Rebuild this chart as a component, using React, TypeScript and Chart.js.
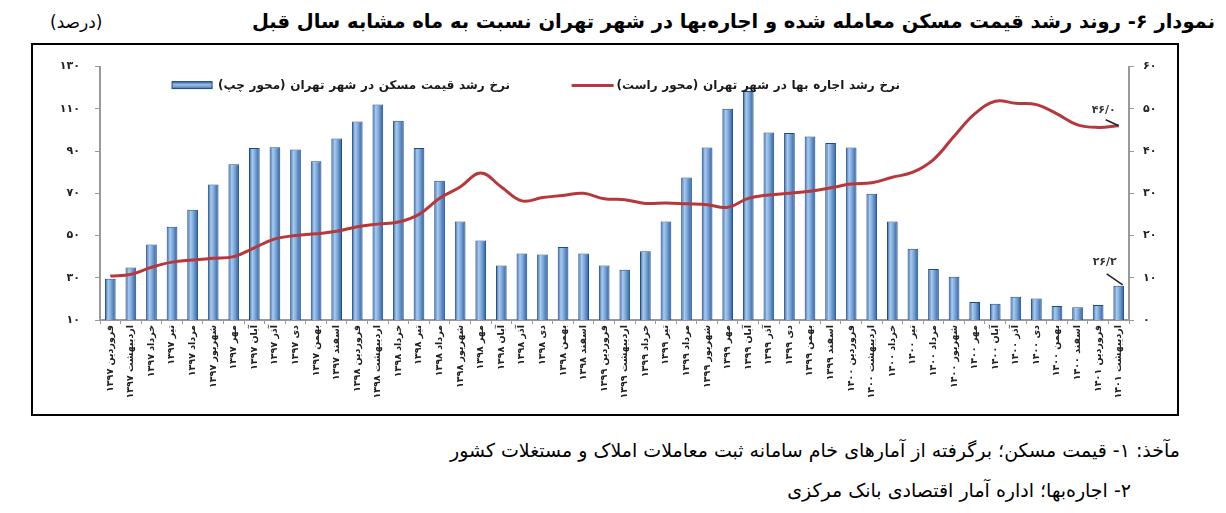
import React, { useEffect, useRef } from 'react';
import { Chart, registerables } from 'chart.js';

Chart.register(...registerables);

const categories: string[] = [
  'فروردین ۱۳۹۷', 'اردیبهشت ۱۳۹۷', 'خرداد ۱۳۹۷', 'تیر ۱۳۹۷', 'مرداد ۱۳۹۷', 'شهریور ۱۳۹۷',
  'مهر ۱۳۹۷', 'آبان ۱۳۹۷', 'آذر ۱۳۹۷', 'دی ۱۳۹۷', 'بهمن ۱۳۹۷', 'اسفند ۱۳۹۷',
  'فروردین ۱۳۹۸', 'اردیبهشت ۱۳۹۸', 'خرداد ۱۳۹۸', 'تیر ۱۳۹۸', 'مرداد ۱۳۹۸', 'شهریور ۱۳۹۸',
  'مهر ۱۳۹۸', 'آبان ۱۳۹۸', 'آذر ۱۳۹۸', 'دی ۱۳۹۸', 'بهمن ۱۳۹۸', 'اسفند ۱۳۹۸',
  'فروردین ۱۳۹۹', 'اردیبهشت ۱۳۹۹', 'خرداد ۱۳۹۹', 'تیر ۱۳۹۹', 'مرداد ۱۳۹۹', 'شهریور ۱۳۹۹',
  'مهر ۱۳۹۹', 'آبان ۱۳۹۹', 'آذر ۱۳۹۹', 'دی ۱۳۹۹', 'بهمن ۱۳۹۹', 'اسفند ۱۳۹۹',
  'فروردین ۱۴۰۰', 'اردیبهشت ۱۴۰۰', 'خرداد ۱۴۰۰', 'تیر ۱۴۰۰', 'مرداد ۱۴۰۰', 'شهریور ۱۴۰۰',
  'مهر ۱۴۰۰', 'آبان ۱۴۰۰', 'آذر ۱۴۰۰', 'دی ۱۴۰۰', 'بهمن ۱۴۰۰', 'اسفند ۱۴۰۰',
  'فروردین ۱۴۰۱', 'اردیبهشت ۱۴۰۱',
];

// Housing price growth (left axis, %)
const housingGrowth: number[] = [
  29.5, 34.9, 45.8, 54.2, 62.2, 74.2, 83.7, 91.5, 91.8, 90.8,
  85.2, 96.0, 104.0, 112.0, 104.3, 91.5, 76.0, 56.6, 47.7, 35.8,
  41.5, 41.0, 44.6, 41.5, 35.8, 33.8, 42.5, 56.6, 77.5, 91.7,
  110.0, 118.5, 98.8, 98.5, 96.9, 93.8, 91.7, 69.8, 56.6, 43.7,
  34.1, 30.5, 18.5, 17.7, 21.0, 20.2, 16.6, 16.0, 17.1, 26.2,
];

// Rent growth (right axis, %)
const rentGrowth: number[] = [
  10.4, 10.8, 12.5, 13.7, 14.2, 14.6, 15.0, 17.1, 19.2, 20.0,
  20.4, 21.0, 22.1, 22.7, 23.2, 25.0, 28.8, 31.5, 34.8, 31.5,
  28.2, 29.0, 29.5, 30.0, 28.7, 28.5, 27.6, 27.7, 27.5, 27.3,
  26.7, 28.8, 29.6, 30.0, 30.5, 31.3, 32.2, 32.5, 33.8, 35.0,
  38.0, 43.5, 48.8, 51.8, 51.3, 51.0, 48.8, 46.2, 45.6, 46.0,
];

const leftAxis = { min: 10, max: 130, step: 20 };
const rightAxis = { min: 0, max: 60, step: 10 };

const barLegend = 'نرخ رشد قیمت مسکن در شهر تهران (محور چپ)';
const lineLegend = 'نرخ رشد اجاره بها در شهر تهران (محور راست)';

const title = 'نمودار ۶- روند رشد قیمت مسکن معامله شده و اجاره‌بها در شهر تهران نسبت به ماه مشابه سال قبل';
const unit = '(درصد)';
const source1 = 'مآخذ: ۱- قیمت مسکن؛ برگرفته از آمارهای خام سامانه ثبت معاملات املاک و مستغلات کشور';
const source2 = '۲- اجاره‌بها؛ اداره آمار اقتصادی بانک مرکزی';

const FA = '۰۱۲۳۴۵۶۷۸۹';
const fa = (s: string) => s.replace(/\d/g, (d) => FA[+d]);

const BAR_PCT = 0.52;
const FONT = '"DejaVu Sans", sans-serif';
const LINE_COLOR = '#b7373b';

const overlayPlugin = {
  id: 'overlay',
  afterDatasetsDraw(chart: any) {
    const { ctx, chartArea } = chart;
    ctx.save();
    // legend
    ctx.font = `bold 12px ${FONT}`;
    (ctx as any).letterSpacing = '0.5px';
    ctx.fillStyle = '#1a1a1a';
    ctx.textBaseline = 'middle';
    ctx.textAlign = 'right';
    (ctx as any).direction = 'rtl';
    const ly = chartArea.top + 19;
    const t1x = chartArea.left + 410;
    ctx.fillText(barLegend, t1x, ly);
    const w1 = ctx.measureText(barLegend).width;
    const sx = t1x - w1 - 6 - 40;
    const g = ctx.createLinearGradient(0, ly - 4, 0, ly + 4);
    g.addColorStop(0, '#2f5f9f');
    g.addColorStop(0.4, '#9cc2ea');
    g.addColorStop(1, '#2f5f9f');
    ctx.fillStyle = g;
    ctx.strokeStyle = '#1f497d';
    ctx.lineWidth = 1;
    ctx.fillRect(sx, ly - 4, 40, 7);
    ctx.strokeRect(sx, ly - 4, 40, 7);

    ctx.fillStyle = '#1a1a1a';
    const t2x = chartArea.left + 800;
    ctx.fillText(lineLegend, t2x, ly);
    const w2 = ctx.measureText(lineLegend).width;
    ctx.strokeStyle = LINE_COLOR;
    ctx.lineWidth = 3;
    ctx.beginPath();
    ctx.moveTo(t2x - w2 - 3 - 42, ly);
    ctx.lineTo(t2x - w2 - 3, ly);
    ctx.stroke();

    // data labels for last points
    (ctx as any).letterSpacing = '0px';
    (ctx as any).direction = 'ltr';
    ctx.font = `bold 11px ${FONT}`;
    ctx.textAlign = 'center';
    ctx.fillStyle = '#333';
    ctx.strokeStyle = '#222';
    ctx.lineWidth = 1.5;
    const last = categories.length - 1;
    const barEl = chart.getDatasetMeta(1).data[last];
    const lineEl = chart.getDatasetMeta(0).data[last];
    if (barEl) {
      const bx = barEl.x, by = barEl.y;
      ctx.fillText(fa(housingGrowth[last].toFixed(1).replace('.', '/')), bx - 14, by - 24);
      ctx.beginPath();
      ctx.moveTo(bx - 12, by - 12);
      ctx.lineTo(bx + 4, by - 1);
      ctx.stroke();
    }
    if (lineEl) {
      const px = lineEl.x, py = lineEl.y;
      ctx.fillText(fa(rentGrowth[last].toFixed(1).replace('.', '/')), px - 15, py - 16);
      ctx.beginPath();
      ctx.moveTo(px - 13, py - 6);
      ctx.lineTo(px, py);
      ctx.stroke();
    }
    ctx.restore();
  },
};

function ChartCanvas() {
  const ref = useRef<HTMLCanvasElement | null>(null);
  useEffect(() => {
    if (!ref.current) return;
    const barBg = (c: any) => {
      const chart = c.chart;
      const xs = chart.scales && chart.scales.x;
      const area = chart.chartArea;
      if (!xs || !area || c.dataIndex == null) return '#4f81bd';
      const cx = xs.getPixelForValue(c.dataIndex);
      const half = ((area.right - area.left) / categories.length) * BAR_PCT / 2;
      if (!isFinite(cx) || !isFinite(half) || half <= 0) return '#4f81bd';
      const gr = chart.ctx.createLinearGradient(cx - half, 0, cx + half, 0);
      gr.addColorStop(0, '#2b5c9c');
      gr.addColorStop(0.3, '#a9cbee');
      gr.addColorStop(0.55, '#7eaadc');
      gr.addColorStop(1, '#2b5c9c');
      return gr;
    };
    const tickFont = { family: FONT, size: 11, weight: 'bold' as const };
    const chart = new Chart(ref.current, {
      type: 'bar',
      data: {
        labels: categories,
        datasets: [
          {
            type: 'line',
            label: lineLegend,
            data: rentGrowth,
            yAxisID: 'y1',
            borderColor: LINE_COLOR,
            borderWidth: 3,
            pointRadius: 0,
            tension: 0.4,
            fill: false,
            order: 0,
          } as any,
          {
            type: 'bar',
            label: barLegend,
            data: housingGrowth,
            yAxisID: 'y',
            backgroundColor: barBg,
            borderColor: '#1f4a86',
            borderWidth: 1,
            categoryPercentage: 1,
            barPercentage: BAR_PCT,
            order: 1,
          },
        ],
      },
      options: {
        responsive: false,
        animation: false,
        layout: { padding: { top: 15, left: 0, right: 0, bottom: 0 } },
        plugins: { legend: { display: false }, tooltip: { enabled: false } },
        scales: {
          x: {
            grid: { drawOnChartArea: false, drawTicks: true, tickLength: 4, color: '#999', offset: true },
            border: { color: '#999', width: 2 },
            ticks: {
              autoSkip: false,
              maxRotation: 90,
              minRotation: 90,
              padding: 1,
              color: '#222',
              font: { family: FONT, size: 9.5, weight: 'bold' },
            },
            afterFit: (s: any) => { s.height = 93; },
          },
          y: {
            position: 'left',
            min: leftAxis.min,
            max: leftAxis.max,
            grid: { drawOnChartArea: false, drawTicks: true, tickLength: 5, color: '#999' },
            border: { color: '#999', width: 2 },
            ticks: {
              stepSize: leftAxis.step,
              padding: 15,
              color: '#222',
              font: tickFont,
              callback: (v: any) => fa(String(v)),
            },
            afterFit: (s: any) => { s.width = 66; },
          },
          y1: {
            position: 'right',
            min: rightAxis.min,
            max: rightAxis.max,
            grid: { drawOnChartArea: false, drawTicks: true, tickLength: 5, color: '#999' },
            border: { color: '#999', width: 2 },
            ticks: {
              stepSize: rightAxis.step,
              padding: 9,
              color: '#222',
              font: tickFont,
              callback: (v: any) => fa(String(v)),
            },
            afterFit: (s: any) => { s.width = 46; },
          },
        },
      },
      plugins: [overlayPlugin],
    });
    return () => chart.destroy();
  }, []);
  return (
    <canvas
      ref={ref}
      width={1141}
      height={368}
      style={{ position: 'absolute', left: 26, top: 37, width: 1141, height: 368 }}
    />
  );
}

export default function App() {
  return (
    <div style={{ position: 'relative', width: 1210, height: 495, overflow: 'hidden', fontFamily: FONT, color: '#000' }}>
      <div
        dir="rtl"
        style={{ position: 'absolute', right: 3, top: 2, font: `bold 19.5px ${FONT}`, whiteSpace: 'nowrap', lineHeight: '24px' }}
      >
        {title}
      </div>
      <div
        dir="rtl"
        style={{ position: 'absolute', left: 42, top: 3, font: `17px ${FONT}`, whiteSpace: 'nowrap', lineHeight: '22px' }}
      >
        {unit}
      </div>
      <div
        style={{ position: 'absolute', left: 23, top: 35, width: 1144, height: 369, border: '2px solid #000' }}
      />
      <ChartCanvas />
      <div
        dir="rtl"
        style={{ position: 'absolute', right: 38, top: 430, font: `19px ${FONT}`, whiteSpace: 'nowrap', lineHeight: '24px' }}
      >
        {source1}
      </div>
      <div
        dir="rtl"
        style={{ position: 'absolute', right: 87, top: 470, font: `19px ${FONT}`, whiteSpace: 'nowrap', lineHeight: '24px' }}
      >
        {source2}
      </div>
    </div>
  );
}
